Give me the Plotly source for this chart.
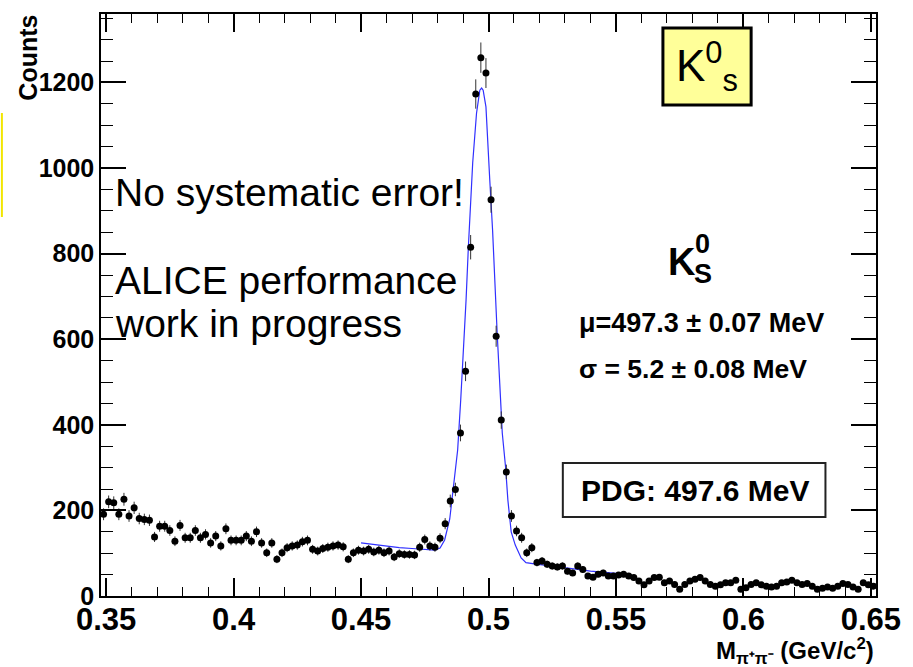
import numpy as np
import plotly.graph_objects as go

# ---- data ----
bin_start = 0.349
bin_width = 0.002
counts = [
    191, 220, 218, 191, 226, 187, 206, 181, 179, 177,
    138, 163, 163, 153, 128, 165, 136, 136, 153, 136,
    144, 124, 140, 117, 157, 130, 130, 130, 140, 128,
    150, 124, 101, 124, 86, 101, 113, 117, 119, 127,
    130, 109, 105, 111, 114, 117, 119, 115, 86, 101,
    107, 105, 109, 103, 107, 101, 105, 91, 99, 97,
    97, 96, 114, 132, 117, 114, 135, 169, 222, 249,
    381, 525, 815, 1173, 1258, 1222, 926, 607, 411, 290,
    187, 152, 136, 101, 113, 78, 82,
    74, 70, 68, 70, 58, 54, 70, 62, 47, 44,
    51, 54, 47, 47, 49, 51, 47, 43, 35, 26,
    35, 43, 44, 31, 35, 27, 16, 27, 35, 39,
    43, 35, 27, 23, 26, 31, 31, 37, 16, 19,
    27, 31, 26, 23, 21, 23, 31, 33, 37, 31,
    27, 29, 23, 16, 18, 21, 18, 23, 29, 27,
    21, 16, 31, 26, 23,
]
mass = [round(bin_start + bin_width * i, 4) for i in range(len(counts))]

fit_x = [0.4500, 0.4550, 0.4600, 0.4650, 0.4700, 0.4750, 0.4790, 0.4810, 0.4828,
         0.4848, 0.4863, 0.4879, 0.4891, 0.4902, 0.4912, 0.4921, 0.4929, 0.4938,
         0.4953, 0.4966, 0.4973, 0.4979, 0.4990, 0.4996, 0.5005, 0.5016, 0.5024,
         0.5034, 0.5044, 0.5054, 0.5067, 0.5076, 0.5089, 0.5105, 0.5128, 0.5147,
         0.5180, 0.5250, 0.5300, 0.5350, 0.5400, 0.5450, 0.5500]
fit_y = [124, 120, 116, 113, 111, 109, 107, 112, 131,
         180, 264, 341, 458, 575, 692, 815, 910, 1012,
         1128, 1182, 1187, 1182, 1143, 1065, 972, 855, 738,
         614, 498, 381, 301, 224, 150, 119, 89, 78,
         75, 69, 65, 62, 58, 55, 53]

x_ticks = [0.35, 0.4, 0.45, 0.5, 0.55, 0.6, 0.65]
y_ticks = [0, 200, 400, 600, 800, 1000, 1200]

FONT = "Liberation Sans, Arial, sans-serif"

fig = go.Figure()
fig.add_trace(go.Scatter(
    x=fit_x, y=fit_y, mode="lines",
    line=dict(color="#3030ff", width=1.2),
    hoverinfo="skip", showlegend=False,
))
fig.add_trace(go.Scatter(
    x=mass, y=counts, mode="markers",
    marker=dict(color="black", size=7, symbol="circle"),
    error_y=dict(type="data", array=list(np.sqrt(counts)), width=0,
                 thickness=1, color="#333333"),
    showlegend=False,
))

W, H = 913, 667
L, R, T, B = 101, 30, 14, 71
pw, ph = W - L - R, H - T - B


def px(x):
    return (x - L) / pw


def py(y):
    return (H - B - y) / ph


shapes = [
    # K0s yellow box
    dict(type="rect", xref="paper", yref="paper",
         x0=px(668), x1=px(757), y0=py(105), y1=py(28),
         fillcolor="#ffff99", line=dict(color="black", width=3), layer="above"),
    # PDG box
    dict(type="rect", xref="paper", yref="paper",
         x0=px(567), x1=px(832), y0=py(517), y1=py(463),
         fillcolor="white", line=dict(color="#222222", width=2), layer="above"),
    # yellow slide-edge artefact
    dict(type="line", xref="paper", yref="paper",
         x0=px(1), x1=px(1), y0=py(217), y1=py(113),
         line=dict(color="#f2e600", width=2)),
]

annotations = [
    dict(text="K<sup>0</sup><sub>s</sub>", x=px(712), y=py(66),
         font=dict(size=44, family=FONT, color="black")),
    dict(text="No systematic error!", x=px(113), y=py(192), xanchor="left",
         font=dict(size=39, family=FONT, color="black")),
    dict(text="ALICE performance", x=px(113), y=py(280), xanchor="left",
         font=dict(size=39, family=FONT, color="black")),
    dict(text="work in progress", x=px(113), y=py(323), xanchor="left",
         font=dict(size=39, family=FONT, color="black")),
    dict(text="K", x=px(687), y=py(262),
         font=dict(size=38, family=FONT, color="black", weight="bold")),
    dict(text="0", x=px(708), y=py(244),
         font=dict(size=27, family=FONT, color="black", weight="bold")),
    dict(text="S", x=px(708), y=py(274),
         font=dict(size=27, family=FONT, color="black", weight="bold")),
    dict(text="μ=497.3 ± 0.07 MeV", x=px(581), y=py(323), xanchor="left",
         font=dict(size=27, family=FONT, color="black", weight="bold")),
    dict(text="σ = 5.2 ± 0.08 MeV", x=px(581), y=py(369), xanchor="left",
         font=dict(size=26.5, family=FONT, color="black", weight="bold")),
    dict(text="PDG: 497.6 MeV", x=px(700), y=py(490),
         font=dict(size=30, family=FONT, color="black", weight="bold")),
    dict(text="M<sub>π⁺π⁻</sub> (GeV/c<sup>2</sup>)", x=px(883), y=py(651),
         xanchor="right",
         font=dict(size=24, family=FONT, color="black", weight="bold")),
    dict(text="Counts", x=px(27), y=py(58), textangle=-90,
         font=dict(size=25, family=FONT, color="black", weight="bold")),
]
for a in annotations:
    a.setdefault("xref", "paper")
    a.setdefault("yref", "paper")
    a.setdefault("showarrow", False)
    a.setdefault("xanchor", "center")
    a.setdefault("yanchor", "middle")

fig.update_layout(
    width=W, height=H,
    margin=dict(l=L, r=R, t=T, b=B, pad=0),
    paper_bgcolor="white", plot_bgcolor="white",
    shapes=shapes, annotations=annotations,
    font=dict(family=FONT, color="black"),
    xaxis=dict(
        range=[0.348, 0.652], tickvals=x_ticks, ticktext=[str(v) for v in x_ticks],
        ticks="inside", ticklen=18, tickwidth=1.5, tickcolor="black",
        ticklabelstandoff=-5,
        minor=dict(dtick=0.01, tick0=0.35, ticks="inside", ticklen=9,
                   tickwidth=1, tickcolor="black", showgrid=False),
        showline=True, linewidth=1.5, linecolor="black", mirror="allticks",
        showgrid=False, zeroline=False,
        tickfont=dict(size=31, family=FONT, weight="bold"),
    ),
    yaxis=dict(
        range=[0, 1360], tickvals=y_ticks, ticktext=[str(v) for v in y_ticks],
        ticks="inside", ticklen=25, tickwidth=1.5, tickcolor="black",
        minor=dict(dtick=50, tick0=0, ticks="inside", ticklen=12,
                   tickwidth=1, tickcolor="black", showgrid=False),
        showline=True, linewidth=1.5, linecolor="black", mirror="allticks",
        showgrid=False, zeroline=False,
        tickfont=dict(size=25, family=FONT, weight="bold"),
    ),
)

fig.write_html("out.html")
